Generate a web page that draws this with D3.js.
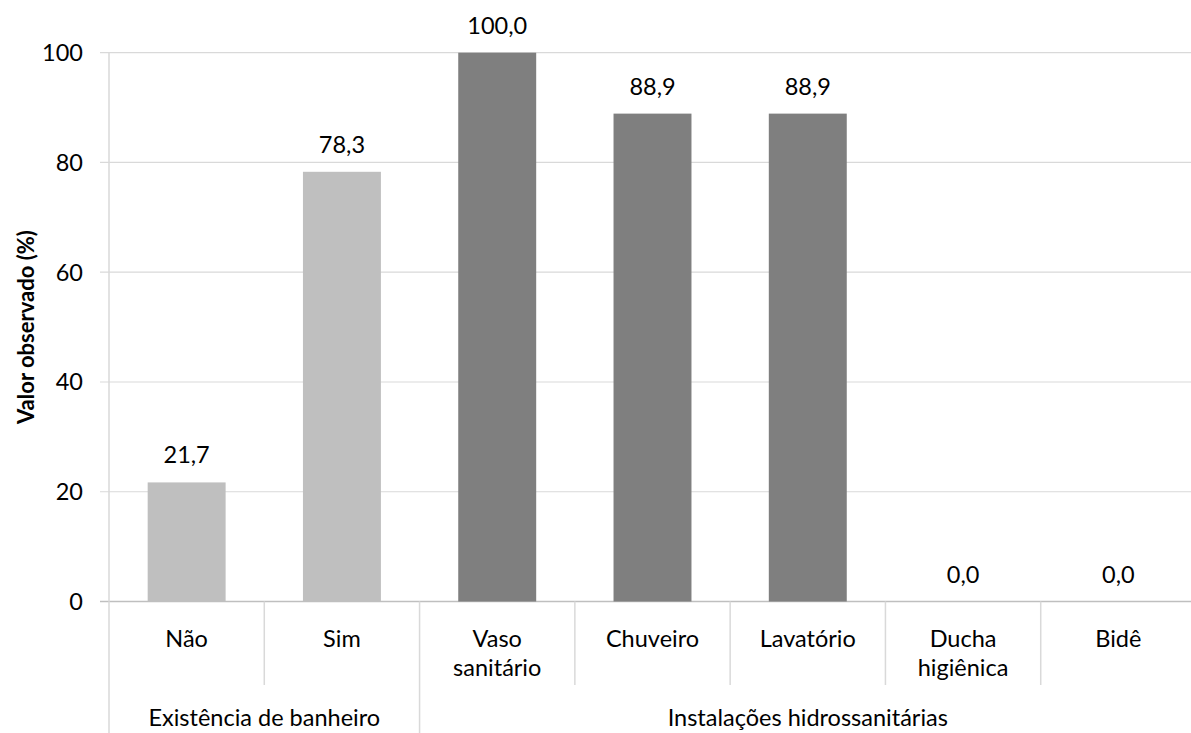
<!DOCTYPE html>
<html><head><meta charset="utf-8">
<script src="https://cdn.jsdelivr.net/npm/d3@7"></script>
<style>
body{margin:0;background:#fff;}
text{font-family:Lato, "Open Sans", sans-serif;fill:#000;}
</style></head>
<body><svg id="c" width="1191" height="733"></svg>
<script>
const categories = ["Não","Sim","Vaso sanitário","Chuveiro","Lavatório","Ducha higiênica","Bidê"];
const values = [21.7, 78.3, 100.0, 88.9, 88.9, 0.0, 0.0];
const groupOf = [0,0,1,1,1,1,1];
const groups = ["Existência de banheiro","Instalações hidrossanitárias"];
const yTicks = [0,20,40,60,80,100];
const yTitle = "Valor observado (%)";

const svg = d3.select("#c");
const pLeft = 109, pRight = 1196, pTop = 52.7, pBottom = 601.5;
const x = d3.scaleBand().domain(categories).range([pLeft,pRight]).paddingInner(0.498).paddingOuter(0.249);
const step = x.step();
const y = d3.scaleLinear().domain([0,100]).range([pBottom, pTop]);
const colors = ["#BFBFBF","#7F7F7F"];
const fs = 23.5;

// gridlines
svg.append("g").selectAll("line").data(yTicks).join("line")
  .attr("x1", pLeft-9).attr("x2", pRight).attr("y1", d=>y(d)).attr("y2", d=>y(d))
  .attr("stroke", d=> d===0 ? "#BFBFBF" : "#D9D9D9").attr("stroke-width", d=>d===0?1.5:1.2);
// y axis line
svg.append("line").attr("x1",pLeft).attr("x2",pLeft).attr("y1",pTop).attr("y2",pBottom).attr("stroke","#D9D9D9").attr("stroke-width",1.5);
// y tick labels
svg.append("g").selectAll("text").data(yTicks).join("text")
  .attr("x", 83).attr("y", d=>y(d)).attr("dy","0.36em").attr("text-anchor","end")
  .attr("font-size", fs).text(d=>d);
// y title
svg.append("text").attr("transform",`translate(26,${(pTop+pBottom)/2}) rotate(-90)`)
  .attr("text-anchor","middle").attr("dy","0.36em").attr("font-size",22).attr("font-weight","bold").text(yTitle);

// bars
svg.append("g").selectAll("rect").data(categories).join("rect")
  .attr("x", d=>x(d)).attr("width", x.bandwidth())
  .attr("y", (d,i)=>y(values[i])).attr("height",(d,i)=>pBottom-y(values[i]))
  .attr("fill",(d,i)=>colors[groupOf[i]]);
// data labels
svg.append("g").selectAll("text").data(categories).join("text")
  .attr("x", d=>x(d)+x.bandwidth()/2).attr("y",(d,i)=>y(values[i])-19)
  .attr("text-anchor","middle").attr("font-size",fs)
  .text((d,i)=>d3.format(".1f")(values[i]).replace(".",","));

// category separators
const bounds = d3.range(categories.length+1).map(i=>pLeft+i*step);
svg.append("g").selectAll("line").data(bounds).join("line")
  .attr("x1",d=>d).attr("x2",d=>d).attr("y1",pBottom)
  .attr("y2",(d,i)=> (i===0 || i===2 || i===categories.length) ? 733 : 685)
  .attr("stroke","#D9D9D9").attr("stroke-width",1.5);

// category labels
categories.forEach((c,i)=>{
  const words = c.split(" ");
  const t = svg.append("text").attr("x", x(c)+x.bandwidth()/2).attr("y",647).attr("text-anchor","middle").attr("font-size",fs);
  words.forEach((w,j)=>t.append("tspan").attr("x", x(c)+x.bandwidth()/2).attr("dy", j===0?0:28.5).text(w));
});
// group labels
groups.forEach((g,gi)=>{
  const idx = groupOf.map((v,i)=>v===gi?i:-1).filter(i=>i>=0);
  const x0 = pLeft + idx[0]*step, x1 = pLeft + (idx[idx.length-1]+1)*step;
  svg.append("text").attr("x",(x0+x1)/2).attr("y",726).attr("text-anchor","middle").attr("font-size",fs).text(g);
});
</script></body></html>
